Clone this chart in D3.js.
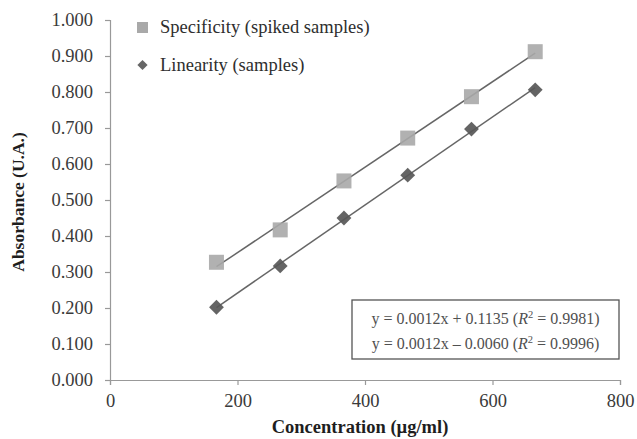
<!DOCTYPE html>
<html>
<head>
<meta charset="utf-8">
<script src="https://cdn.jsdelivr.net/npm/d3@7/dist/d3.min.js"></script>
<style>
  html, body { margin: 0; padding: 0; background: #fff; }
  svg { display: block; }
</style>
</head>
<body>
<svg id="chart" width="637" height="439"></svg>
<script>
// Concentrations (µg/ml) and measured absorbances
const concentrations = [167, 267, 367, 467, 567, 667];
const specificity = [0.327, 0.417, 0.553, 0.672, 0.787, 0.912];
const linearity = [0.202, 0.317, 0.450, 0.569, 0.697, 0.806];
const seriesNames = ["Specificity (spiked samples)", "Linearity (samples)"];
const equations = [
  { eq: "y = 0.0012x + 0.1135 (", r2: "0.9981" },
  { eq: "y = 0.0012x \u2013 0.0060 (", r2: "0.9996" }
];
const xTicks = [0, 200, 400, 600, 800];
const yTicks = [0, 0.1, 0.2, 0.3, 0.4, 0.5, 0.6, 0.7, 0.8, 0.9, 1.0];

const FONT = '"Liberation Serif"';
const svg = d3.select("#chart");
const margin = { left: 110, right: 17, top: 20, bottom: 59 };
const W = 637, H = 439;

const x = d3.scaleLinear().domain([0, 800]).range([margin.left, W - margin.right]);
const y = d3.scaleLinear().domain([0, 1]).range([H - margin.bottom, margin.top]);

const axisColor = "#999";
const textColor = "#3a3a3a";

// Y axis
const yAxis = svg.append("g")
  .attr("transform", `translate(${margin.left},0)`)
  .call(d3.axisLeft(y).tickValues(yTicks).tickFormat(d3.format(".3f")).tickSize(5).tickPadding(12));
// X axis
const xAxis = svg.append("g")
  .attr("transform", `translate(0,${y(0)})`)
  .call(d3.axisBottom(x).tickValues(xTicks).tickFormat(d3.format("d")).tickSize(5).tickPadding(9));

[yAxis, xAxis].forEach(g => {
  g.selectAll("path.domain").attr("stroke", axisColor).attr("stroke-width", 1.2);
  g.selectAll(".tick line").attr("stroke", axisColor).attr("stroke-width", 1.2);
  g.selectAll(".tick text")
    .attr("fill", textColor)
    .style("font-family", FONT)
    .style("font-size", "18.5px");
});

// Axis titles
svg.append("text")
  .attr("x", x(400) - 5).attr("y", 433)
  .attr("text-anchor", "middle")
  .style("font-family", FONT)
  .attr("font-weight", "bold").attr("font-size", "18.5px").attr("fill", "#1e1e1e")
  .text("Concentration (\u00b5g/ml)");

svg.append("text")
  .attr("transform", `translate(24,${y(0.5) + 2}) rotate(-90)`)
  .attr("text-anchor", "middle")
  .style("font-family", FONT)
  .attr("font-weight", "bold").attr("font-size", "17.5px").attr("fill", "#1e1e1e")
  .text("Absorbance (U.A.)");

// Least-squares trend line over the measured range
function fit(xs, ys) {
  const n = xs.length;
  const mx = d3.mean(xs), my = d3.mean(ys);
  let sxy = 0, sxx = 0;
  for (let i = 0; i < n; i++) { sxy += (xs[i] - mx) * (ys[i] - my); sxx += (xs[i] - mx) ** 2; }
  const b = sxy / sxx;
  return { b, a: my - b * mx };
}

const lineGen = d3.line().x(d => x(d[0])).y(d => y(d[1]));
[specificity, linearity].forEach(vals => {
  const f = fit(concentrations, vals);
  const x0 = d3.min(concentrations), x1 = d3.max(concentrations);
  svg.append("path")
    .datum([[x0, f.a + f.b * x0], [x1, f.a + f.b * x1]])
    .attr("d", lineGen)
    .attr("stroke", "#666").attr("stroke-width", 1.5).attr("fill", "none");
});

// Markers
const sqSize = 15;
const specColor = "#a9a9a9";
const linColor = "#575757";

svg.append("g").selectAll("rect")
  .data(concentrations.map((c, i) => [c, specificity[i]]))
  .join("rect")
  .attr("x", d => x(d[0]) - sqSize / 2)
  .attr("y", d => y(d[1]) - sqSize / 2)
  .attr("width", sqSize).attr("height", sqSize)
  .attr("fill", specColor).attr("fill-opacity", 0.9);

svg.append("g").selectAll("path")
  .data(concentrations.map((c, i) => [c, linearity[i]]))
  .join("path")
  .attr("transform", d => `translate(${x(d[0])},${y(d[1])}) rotate(45)`)
  .attr("d", d3.symbol().type(d3.symbolSquare).size(110))
  .attr("fill", linColor).attr("fill-opacity", 0.92);

// Legend
const legend = svg.append("g");
legend.append("rect")
  .attr("x", 137).attr("y", 22).attr("width", 11).attr("height", 11)
  .attr("fill", specColor);
legend.append("path")
  .attr("transform", "translate(142.5,65) rotate(45)")
  .attr("d", d3.symbol().type(d3.symbolSquare).size(52))
  .attr("fill", "#666");
legend.selectAll("text")
  .data(seriesNames)
  .join("text")
  .attr("x", 160)
  .attr("y", (d, i) => 33 + i * 38)
  .style("font-family", FONT)
  .attr("font-size", "18.5px").attr("fill", "#2e2e2e")
  .text(d => d);

// Equation box
const box = svg.append("g");
box.append("rect")
  .attr("x", 352).attr("y", 300).attr("width", 267).attr("height", 59)
  .attr("fill", "#fff").attr("stroke", "#555").attr("stroke-width", 1.3);
const eqText = box.selectAll("text")
  .data(equations)
  .join("text")
  .attr("x", 485.5)
  .attr("y", (d, i) => 324 + i * 25)
  .attr("text-anchor", "middle")
  .style("font-family", FONT)
  .attr("font-size", "16px").attr("fill", "#505050");
eqText.append("tspan").text(d => d.eq);
eqText.append("tspan").attr("font-style", "italic").text("R");
eqText.append("tspan").attr("font-size", "10.5px").attr("dy", -6).text("2");
eqText.append("tspan").attr("dy", 6).text(d => " = " + d.r2 + ")");
</script>
</body>
</html>
